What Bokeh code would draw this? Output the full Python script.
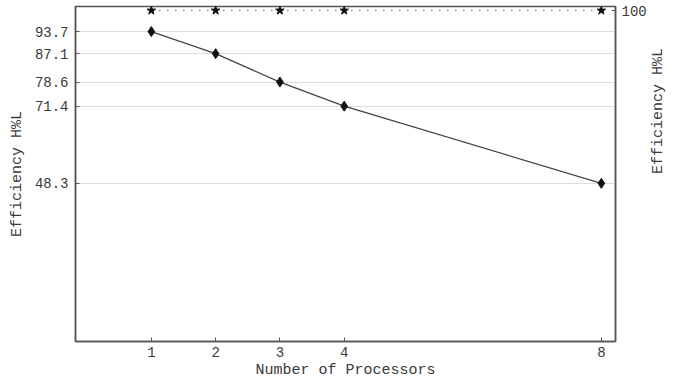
import math
from bokeh.plotting import figure
from bokeh.models import LinearAxis, FixedTicker, Range1d
from bokeh.embed import file_html
from bokeh.resources import INLINE

processors = [1, 2, 3, 4, 8]
efficiency = [93.7, 87.1, 78.6, 71.4, 48.3]
ideal = [100, 100, 100, 100, 100]
left_ticks = [48.3, 71.4, 78.6, 87.1, 93.7]
right_ticks = [100]

FONT = "Liberation Mono"
TXT = "#3a3a3a"

p = figure(width=680, height=383, output_backend="svg", toolbar_location=None,
           x_range=Range1d(-0.18, 8.22), y_range=Range1d(1.0, 101.2),
           min_border_left=75, min_border_right=65, min_border_top=6, min_border_bottom=42,
           x_axis_location=None, y_axis_location=None)
p.outline_line_color = "#555555"
p.outline_line_width = 1.5
p.background_fill_color = "white"
p.border_fill_color = "white"

xa = LinearAxis(ticker=FixedTicker(ticks=processors), axis_label="Number of Processors")
ya = LinearAxis(ticker=FixedTicker(ticks=left_ticks), axis_label="Efficiency H%L")
ra = LinearAxis(ticker=FixedTicker(ticks=right_ticks), axis_label="Efficiency H%L")
for ax in (xa, ya, ra):
    ax.axis_line_color = "#555555"
    ax.axis_line_width = 1.5
    ax.major_tick_in = 4
    ax.major_tick_out = 0
    ax.major_tick_line_color = "#555555"
    ax.minor_tick_line_color = None
    ax.major_label_text_font = FONT
    ax.major_label_text_font_size = "14px"
    ax.major_label_text_color = TXT
    ax.axis_label_text_font = FONT
    ax.axis_label_text_font_size = "15px"
    ax.axis_label_text_font_style = "normal"
    ax.axis_label_text_color = TXT
xa.major_label_standoff = 5
xa.axis_label_standoff = 2
ya.major_label_standoff = 7
ya.axis_label_standoff = 6
ra.major_label_standoff = 6
ra.axis_label_standoff = 9
try:
    ra.axis_label_orientation = math.pi / 2
except Exception:
    pass
p.add_layout(xa, "below")
p.add_layout(ya, "left")
p.add_layout(ra, "right")

p.xgrid.visible = False
p.ygrid.ticker = FixedTicker(ticks=left_ticks)
p.ygrid.grid_line_color = "#dddddd"
p.ygrid.grid_line_width = 1

p.line(processors, ideal, line_color="#555555", line_width=1.3, line_dash="1 7")
p.scatter(processors, ideal, marker="star", size=9, fill_color="#111111", line_color="#111111")
p.line(processors, efficiency, line_color="#444444", line_width=1.3)
p.scatter(processors, efficiency, marker="diamond", size=10, fill_color="#111111", line_color="#111111")

open("out.html", "w").write(file_html(p, INLINE))
